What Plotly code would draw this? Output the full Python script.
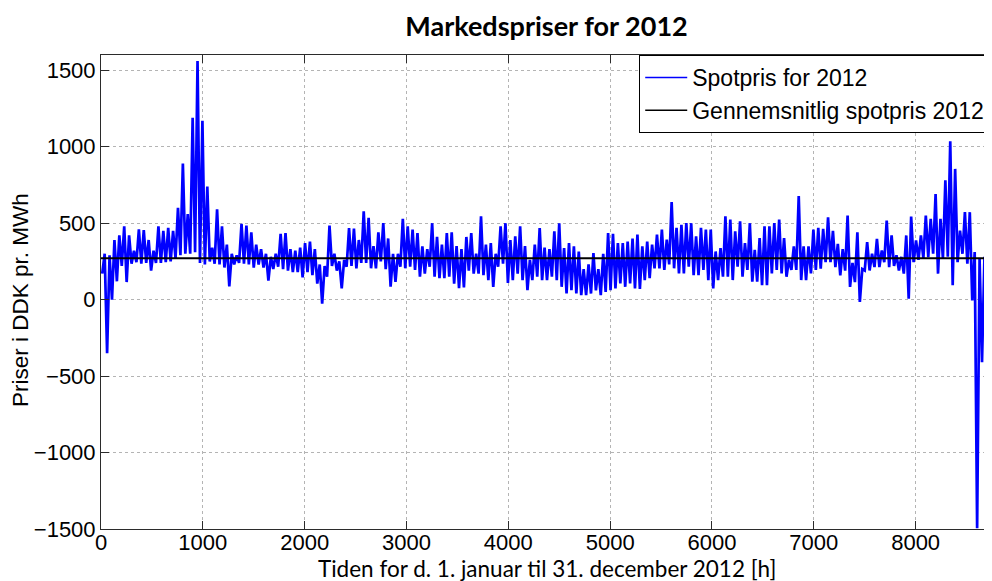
import plotly.graph_objects as go

# Hourly spot price 2012 (DKK/MWh), read from the chart as 48-hour blocks:
# highest and lowest value within each 48-hour block (183 blocks = 8784 h)
block_hours = 48
block_high = [
    300, 290, 390, 420, 480, 420, 320, 460, 455, 390,
    320, 480, 450, 470, 450, 600, 890, 560, 1190, 1560,
    1170, 740, 340, 590, 480, 360, 300, 290, 496, 485,
    440, 360, 330, 300, 280, 300, 430, 435, 330, 320,
    340, 370, 380, 330, 230, 220, 484, 300, 250, 260,
    468, 465, 390, 578, 535, 350, 440, 500, 400, 300,
    300, 528, 480, 458, 435, 348, 330, 500, 410, 360,
    435, 440, 350, 330, 410, 435, 300, 545, 360, 370,
    300, 480, 500, 390, 414, 480, 350, 260, 360, 468,
    340, 330, 447, 500, 337, 370, 348, 315, 200, 230,
    304, 200, 300, 435, 430, 370, 370, 380, 400, 425,
    348, 380, 360, 425, 458, 392, 638, 470, 490, 500,
    500, 414, 469, 458, 458, 315, 337, 545, 524, 447,
    513, 370, 500, 326, 403, 480, 480, 500, 524, 403,
    260, 348, 678, 348, 348, 458, 469, 463, 539, 450,
    365, 330, 550, 240, 441, 200, 376, 300, 398, 322,
    517, 420, 290, 280, 420, 544, 387, 420, 550, 528,
    691, 528, 780, 1036, 855, 452, 572, 572, 311, 268,
    280, 300, 250,
]
block_low = [
    170, -350, 0, 120, 220, 115, 235, 245, 235, 240,
    190, 240, 240, 245, 250, 270, 290, 300, 300, 310,
    240, 230, 250, 235, 230, 210, 87, 230, 240, 235,
    230, 210, 230, 210, 125, 200, 215, 200, 190, 180,
    180, 145, 180, 160, 105, -26, 150, 220, 190, 73,
    215, 220, 205, 240, 240, 205, 205, 250, 200, 85,
    117, 215, 205, 215, 194, 150, 170, 215, 150, 140,
    140, 150, 105, 75, 80, 190, 170, 170, 160, 128,
    84, 215, 235, 110, 128, 170, 128, 62, 128, 150,
    128, 128, 150, 128, 84, 40, 62, 40, 30, 30,
    40, 60, 30, 50, 62, 73, 106, 84, 106, 73,
    70, 128, 140, 205, 205, 194, 230, 205, 172, 172,
    215, 160, 160, 194, 128, 73, 128, 150, 150, 128,
    215, 150, 194, 117, 117, 95, 95, 172, 194, 172,
    150, 194, 194, 128, 128, 172, 194, 202, 245, 245,
    213, 159, 190, 83, 115, -15, 191, 191, 213, 213,
    245, 213, 220, 191, 170, 6, 245, 260, 270, 278,
    300, 170, 267, 280, 94, 245, 300, 235, -5, -1495,
    -410, 20, -190,
]
avg_price = 270          # Gennemsnitlig spotpris 2012
total_hours = 8784

x_ticks = [0, 1000, 2000, 3000, 4000, 5000, 6000, 7000, 8000]
y_ticks = [-1500, -1000, -500, 0, 500, 1000, 1500]

# Build the spot price line: low then high inside each block
spot_x, spot_y = [], []
for i, (lo, hi) in enumerate(zip(block_low, block_high)):
    start = i * block_hours
    spot_x += [start + block_hours // 4, start + 3 * block_hours // 4]
    spot_y += [lo, hi]

BLUE = "#0000FF"
fig = go.Figure()
fig.add_trace(go.Scatter(
    x=spot_x, y=spot_y, mode="lines",
    line=dict(color=BLUE, width=2.7),
    showlegend=False,
))
fig.add_trace(go.Scatter(
    x=[0, total_hours], y=[avg_price, avg_price], mode="lines",
    line=dict(color="#000000", width=2),
    showlegend=False,
))
# legend entries (thin line samples, as in the reference)
fig.add_trace(go.Scatter(
    x=[None], y=[None], mode="lines",
    line=dict(color=BLUE, width=1.5),
    name="Spotpris for 2012",
))
fig.add_trace(go.Scatter(
    x=[None], y=[None], mode="lines",
    line=dict(color="#000000", width=1.5),
    name="Gennemsnitlig spotpris 2012",
))

axis_style = dict(
    showgrid=True, gridcolor="#b4b4b4", griddash="dot", gridwidth=1,
    zeroline=False, showline=True, linecolor="#2b2b2b", linewidth=1,
    mirror="ticks", ticks="inside", ticklen=8, tickcolor="#2b2b2b",
    tickfont=dict(family="Liberation Sans, Arial", size=22, color="#000"),
)

# The page body adds an 8 px margin on the left and top, so the figure is
# made 8 px smaller and the margins are reduced by 8 px to compensate.
W, H, OFF = 992, 581, 8
fig.update_layout(
    width=W - OFF, height=H - OFF,
    margin=dict(l=101 - OFF, r=0, t=55 - OFF, b=52),
    paper_bgcolor="white", plot_bgcolor="white",
    title=dict(
        text="<b>Markedspriser for 2012</b>",
        font=dict(family="Lato, Open Sans", size=27, color="#000"),
        x=0.5, xref="paper", xanchor="center",
        y=1 - (27 - OFF) / (H - OFF), yref="container", yanchor="middle",
    ),
    xaxis=dict(range=[0, 8750], tickvals=x_ticks, ticklabelstandoff=-6,
               **axis_style),
    yaxis=dict(range=[-1500, 1600], tickvals=y_ticks, **axis_style),
    legend=dict(
        x=0.998, xanchor="right", y=1.0, yanchor="top",
        bgcolor="white", bordercolor="#000", borderwidth=1,
        itemwidth=42, tracegroupgap=0, traceorder="normal",
        font=dict(family="Liberation Sans, Arial", size=23, color="#000"),
    ),
    showlegend=True,
    annotations=[
        dict(text="Tiden for d. 1. januar til 31. december 2012 [h]",
             xref="paper", yref="paper", x=0.5, y=-(568 - 529) / 474,
             xanchor="center", yanchor="middle", showarrow=False,
             font=dict(family="Lato, Open Sans", size=22.5, color="#000")),
        dict(text="Priser i DDK pr. MWh",
             xref="paper", yref="paper", x=-(101 - 20) / 891, y=0.483,
             xanchor="center", yanchor="middle", textangle=-90, showarrow=False,
             font=dict(family="Liberation Sans, Arial", size=22.5, color="#000")),
    ],
)

fig.write_html("out.html")
